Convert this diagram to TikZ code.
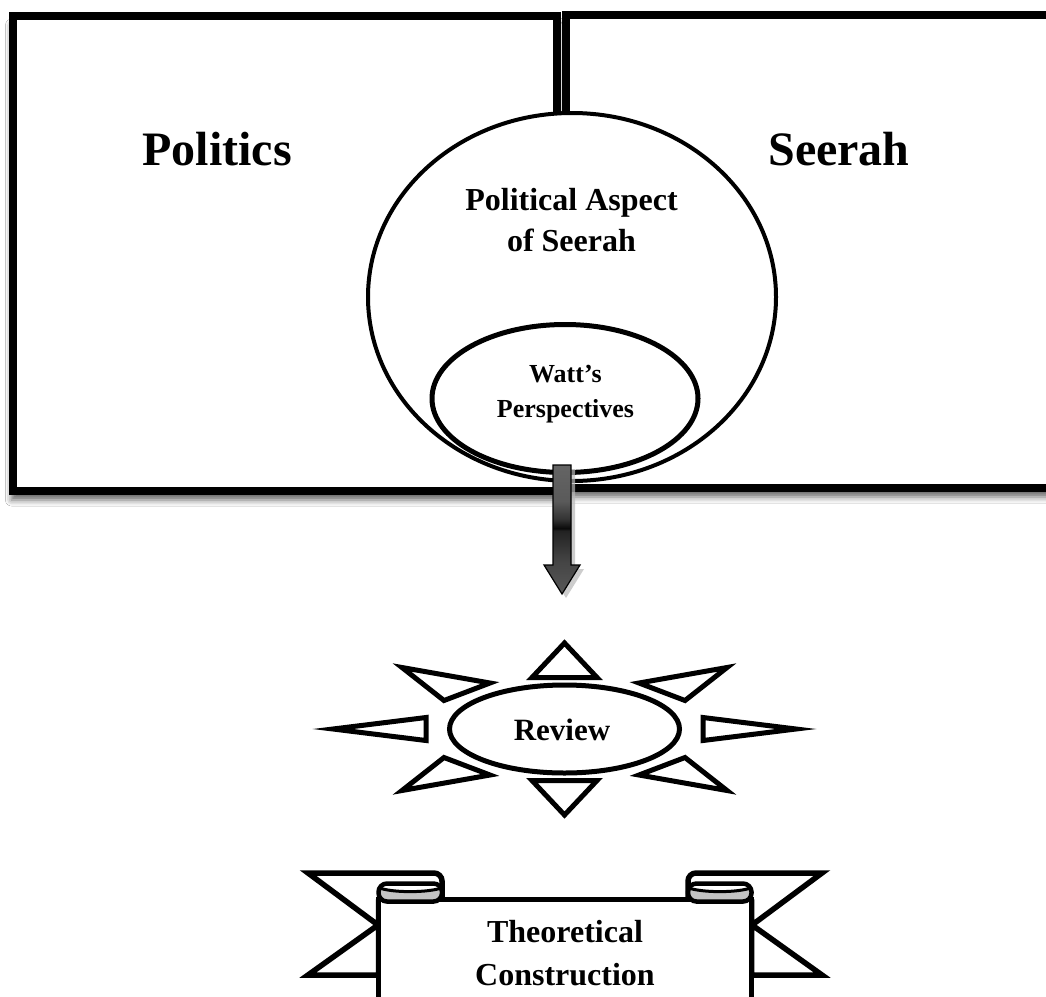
\documentclass[tikz,border=0pt]{standalone}
\usepackage{fontspec}
\setmainfont{Liberation Serif}
\usetikzlibrary{shadows.blur}
\definecolor{arrA}{HTML}{585858}
\definecolor{arrB}{HTML}{444444}
\definecolor{arrC}{HTML}{222222}
\definecolor{arrD}{HTML}{0A0A0A}
\definecolor{arrE}{HTML}{333333}
\definecolor{arrF}{HTML}{5A5A5A}
\definecolor{arrG}{HTML}{646464}
\definecolor{rollgray}{HTML}{C4C4C4}
\pgfdeclareverticalshading{arrshade}{100bp}{color(0bp)=(arrA); color(25bp)=(arrA); color(38bp)=(arrB); color(49.5bp)=(arrC); color(50.5bp)=(arrD); color(54bp)=(arrE); color(61bp)=(arrF); color(75bp)=(arrG); color(100bp)=(arrG)}
\tikzset{
  bigbox/.style={draw=black, fill=white, line width=8pt, line join=miter,
    blur shadow={shadow xshift=-1pt, shadow yshift=-9pt, shadow blur radius=6pt, shadow opacity=60}},
  bubble/.style={draw=black, fill=white, line width=4pt},
  inner/.style={draw=black, fill=white, line width=5pt},
  ray/.style={draw=black, fill=white, line width=5pt, line join=miter},
  ribbon/.style={draw=black, line width=5.5pt, line join=miter},
  rollout/.style={draw=black, line width=4.5pt},
  rollline/.style={draw=black, line width=3pt},
  lbl/.style={inner sep=0pt, font=\bfseries, align=center},
}
\begin{document}
\begin{tikzpicture}[x=1pt, y=-1pt]
\useasboundingbox (0,0) rectangle (1046,996);
\fill[white] (0,0) rectangle (1046,996);
\clip (0,0) rectangle (1046,996);

% the two frames
\path[bigbox] (12.5,16) rectangle (557,491);
\path[bigbox] (565.5,14.5) rectangle (1080,488);

% big bubble and inner bubble
\path[bubble] (572,297) ellipse [x radius=204, y radius=184];
\path[inner] (565,398.5) ellipse [x radius=133, y radius=74];

% labels
\node[lbl, anchor=base, font=\bfseries\fontsize{48}{56}\selectfont] (politics) at (217,165) {Politics};
\node[lbl, anchor=base, font=\bfseries\fontsize{48}{56}\selectfont] (seerah) at (839,165) {Seerah};
\node[lbl, anchor=north, font=\bfseries\fontsize{32}{41}\selectfont] (aspect) at (571.5,188.5) {Political Aspect\\of Seerah};
\node[lbl, anchor=north, font=\bfseries\fontsize{26}{35}\selectfont] (watt) at (565.5,365) {Watt’s\\Perspectives};

% block arrow
\coordinate (arrtop) at (562,465);
\coordinate (arrtip) at (562,594);
\fill[gray!55, opacity=0.7] ([xshift=4pt,yshift=-4pt]arrtop) ++(-9,0) -- ++(18,0) -- ++(0,100) -- ++(9,0) -- ([xshift=4pt,yshift=-4pt]arrtip) -- ++(-18,-29) -- ++(9,0) -- cycle;
\path[shading=arrshade, draw=black, line width=1.2pt, line join=miter] (arrtop) ++(-9,0) -- ++(18,0) -- ++(0,100) -- ++(9,0) -- (arrtip) -- ++(-18,-29) -- ++(9,0) -- cycle;

% sun
\path[ray] (532,677.5) -- (564.5,643) -- (597,677.5) -- cycle;
\path[ray] (532,780.5) -- (564.5,815) -- (597,780.5) -- cycle;
\path[ray] (333,729) -- (426,717.5) -- (426,740.5) -- cycle;
\path[ray] (796,729) -- (703,717.5) -- (703,740.5) -- cycle;
\path[ray] (402,667.5) -- (490,683) -- (444,700.5) -- cycle;
\path[ray] (727,667.5) -- (639,683) -- (685,700.5) -- cycle;
\path[ray] (402,790.5) -- (490,775) -- (444,757.5) -- cycle;
\path[ray] (727,790.5) -- (639,775) -- (685,757.5) -- cycle;
\path[ray] (564.5,729) ellipse [x radius=115, y radius=44];
\node[lbl, anchor=base, font=\bfseries\fontsize{31}{37}\selectfont] (review) at (562,740) {Review};

% ribbon: tails
\path[ribbon, fill=white] (442,902) [rounded corners=8pt] -- (442,873) [sharp corners] -- (308,873) -- (378,925) -- (308,975) -- (378.5,975) -- (378.5,902) -- cycle;
\path[ribbon, fill=white] (688,902) [rounded corners=8pt] -- (688,873) [sharp corners] -- (822,873) -- (752,925) -- (822,975) -- (751.5,975) -- (751.5,902) -- cycle;
% ribbon: front band
\path[ribbon, fill=white] (378.5,1030) -- (378.5,899.5) -- (751.5,899.5) -- (751.5,1030);
% ribbon: left roll
\fill[rollgray, rounded corners=8.5pt] (378.5,883.5) rectangle (442,901.5);
\begin{scope}
  \clip[rounded corners=8.5pt] (378.5,883.5) rectangle (442,901.5);
  \fill[white] (376,883) -- (376,887.5) .. controls (392,893) and (428,893) .. (444,887.5) -- (444,883) -- cycle;
  \path[rollline] (378,887.5) .. controls (392,893) and (428,893) .. (443,887.5);
\end{scope}
\path[rollout, rounded corners=8.5pt] (378.5,883.5) rectangle (442,901.5);
% ribbon: right roll
\fill[rollgray, rounded corners=8.5pt] (688,883.5) rectangle (751.5,901.5);
\begin{scope}
  \clip[rounded corners=8.5pt] (688,883.5) rectangle (751.5,901.5);
  \fill[white] (686,883) -- (686,887.5) .. controls (702,893) and (738,893) .. (754,887.5) -- (754,883) -- cycle;
  \path[rollline] (687,887.5) .. controls (702,893) and (738,893) .. (752,887.5);
\end{scope}
\path[rollout, rounded corners=8.5pt] (688,883.5) rectangle (751.5,901.5);
\node[lbl, anchor=north, font=\bfseries\fontsize{32}{43}\selectfont] (theory) at (565,920.5) {Theoretical\\Construction};
\end{tikzpicture}
\end{document}
